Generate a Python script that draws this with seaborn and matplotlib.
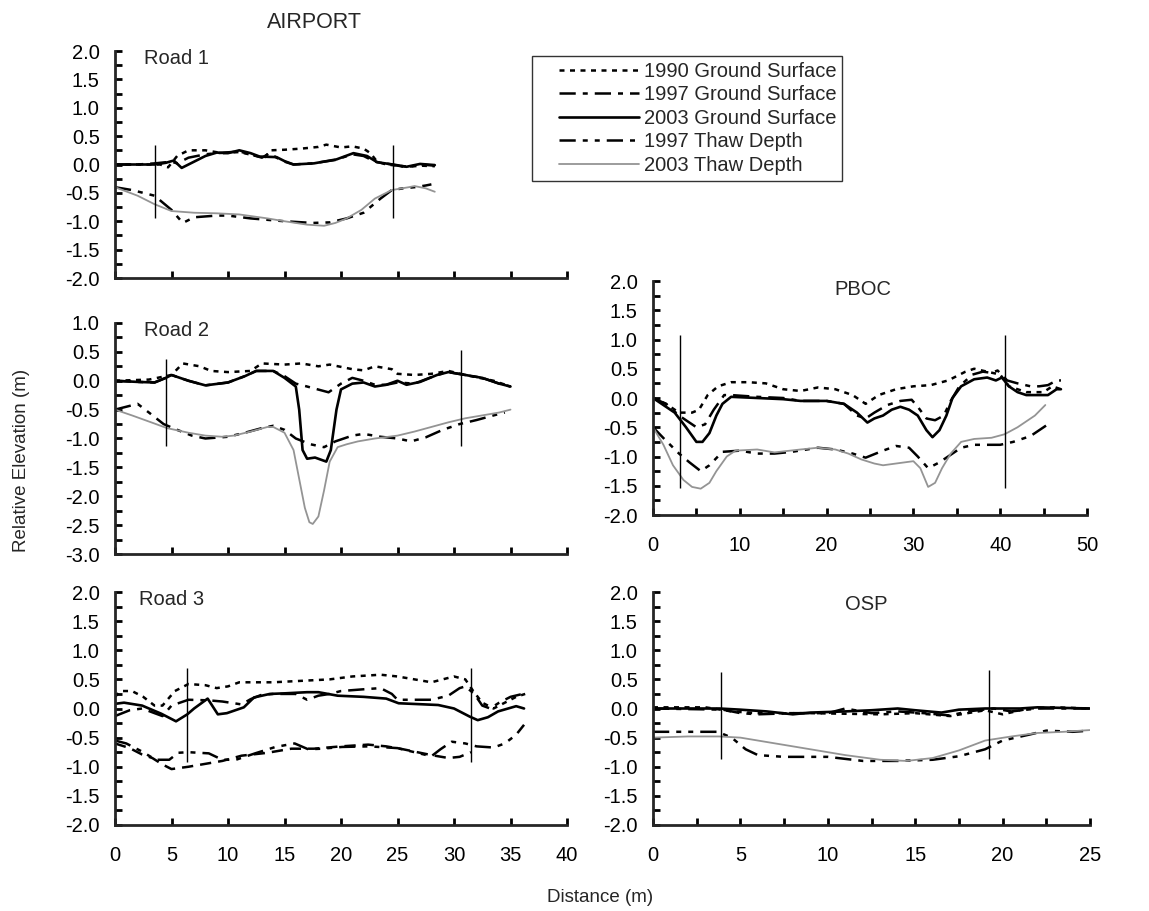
import numpy as np
import pandas as pd
import seaborn as sns
import matplotlib.pyplot as plt
from matplotlib.lines import Line2D
from matplotlib.legend_handler import HandlerLine2D
from matplotlib.ticker import MultipleLocator, FormatStrFormatter, NullFormatter

# Road 1 profiles
road1_gs1990_x = [0, 2, 4, 4.7, 5.5, 6.5, 8, 9.5, 11, 12.5, 13.2, 13.8, 15, 16.5, 18, 18.7, 20, 21, 22, 22.6, 23.2, 24, 25, 26, 27, 28.3]
road1_gs1990_y = [0.0, 0.0, 0.0, -0.05, 0.15, 0.25, 0.25, 0.2, 0.22, 0.15, 0.12, 0.25, 0.26, 0.28, 0.31, 0.35, 0.3, 0.32, 0.28, 0.2, 0.05, 0.0, -0.02, -0.04, -0.02, -0.03]
road1_gs1997_x = [0, 2, 3.5, 5, 5.5, 6.5, 8, 9, 11, 12, 13, 13.7, 14.3, 15, 15.8, 17.5, 19.5, 21, 22, 23, 24.5, 25.8, 27, 28.3]
road1_gs1997_y = [0.0, 0.0, 0.02, 0.05, 0.02, 0.12, 0.18, 0.2, 0.23, 0.18, 0.12, 0.2, 0.12, 0.05, 0.0, 0.02, 0.08, 0.18, 0.15, 0.05, 0.0, -0.05, 0.0, -0.02]
road1_gs2003_x = [0, 2, 3.5, 4.5, 5.2, 5.9, 7, 8, 9, 10, 11, 12, 12.8, 14.3, 15, 15.8, 17.6, 19.6, 21.1, 22.3, 23.2, 24.6, 25.8, 27, 28.3]
road1_gs2003_y = [0.0, 0.0, 0.0, 0.03, 0.07, -0.06, 0.05, 0.15, 0.21, 0.2, 0.25, 0.2, 0.14, 0.13, 0.06, 0.0, 0.02, 0.09, 0.2, 0.15, 0.04, 0.0, -0.04, 0.01, -0.01]
road1_td1997_x = [0, 1.5, 3.5, 5, 6, 7, 9, 10, 12, 15, 17.5, 19, 20.5, 22, 23.5, 24.5, 25.5, 26.5, 27.5, 28]
road1_td1997_y = [-0.4, -0.45, -0.55, -0.8, -1.03, -0.93, -0.9, -0.9, -0.95, -1.0, -1.03, -1.02, -0.95, -0.85, -0.6, -0.45, -0.42, -0.4, -0.37, -0.35]
road1_td2003_x = [0, 2, 3.5, 5, 7, 9, 11, 13.5, 15, 17, 18.5, 19.5, 20.5, 21.8, 23, 24.5, 26, 26.5, 27.5, 28.3]
road1_td2003_y = [-0.4, -0.55, -0.7, -0.82, -0.85, -0.86, -0.88, -0.95, -1.0, -1.06, -1.08, -1.03, -0.95, -0.8, -0.6, -0.45, -0.4, -0.38, -0.42, -0.48]

# Road 2 profiles
road2_gs1990_x = [0, 3, 5, 6, 7.5, 8.5, 10, 12, 13, 15, 16.5, 18, 19, 21, 22, 23, 24.5, 25, 26.5, 28, 29.5, 31, 33.5, 35]
road2_gs1990_y = [0.0, 0.02, 0.1, 0.3, 0.25, 0.17, 0.15, 0.17, 0.3, 0.28, 0.3, 0.25, 0.28, 0.2, 0.18, 0.25, 0.2, 0.12, 0.1, 0.12, 0.17, 0.1, 0.0, -0.1]
road2_gs1997_x = [0, 2, 3.5, 4.5, 5, 6.5, 8, 10, 11.5, 12.5, 14, 15, 16, 17, 18.9, 20, 21, 22, 23, 24, 25, 26.5, 28.5, 29.5, 31, 32.5, 34, 35]
road2_gs1997_y = [0.0, -0.02, -0.03, 0.05, 0.1, 0.0, -0.08, -0.03, 0.08, 0.17, 0.17, 0.08, -0.05, -0.1, -0.2, -0.05, 0.05, 0.0, -0.07, -0.07, -0.03, -0.05, 0.1, 0.15, 0.1, 0.05, -0.05, -0.1]
road2_gs2003_x = [0, 2, 3.5, 4.5, 5, 6.5, 8, 10, 11.5, 12.5, 14, 15, 16, 16.3, 16.6, 17, 17.7, 18.7, 19.1, 19.6, 20, 21, 22, 23, 24, 25, 25.8, 27, 28.5, 29.5, 31, 32.5, 34, 35]
road2_gs2003_y = [0.0, -0.02, -0.03, 0.05, 0.1, 0.0, -0.08, -0.03, 0.08, 0.17, 0.17, 0.05, -0.1, -0.5, -1.2, -1.35, -1.33, -1.4, -1.2, -0.5, -0.15, -0.05, -0.03, -0.1, -0.07, 0.0, -0.07, -0.02, 0.1, 0.15, 0.1, 0.05, -0.05, -0.1]
road2_td1997_x = [0, 2, 3, 4.3, 5.5, 6.8, 8, 10, 11.5, 13, 14, 15, 16, 17.3, 18.5, 19.5, 21, 22, 23.5, 25, 26.2, 27.5, 29, 30.5, 32, 33.5, 34.5]
road2_td1997_y = [-0.5, -0.4, -0.55, -0.75, -0.85, -0.95, -1.0, -0.97, -0.9, -0.82, -0.78, -0.85, -1.0, -1.1, -1.15, -1.05, -0.95, -0.92, -0.97, -1.0, -1.05, -0.98, -0.85, -0.75, -0.68, -0.6, -0.55]
road2_td2003_x = [0, 1.5, 3.2, 4.6, 6.5, 8, 9.5, 10.5, 12, 13.5, 14, 15, 15.8, 16.3, 16.8, 17.2, 17.5, 18, 18.5, 19, 19.7, 20.5, 21.5, 23, 25, 26.5, 28, 29.5, 31, 32.5, 34, 35]
road2_td2003_y = [-0.5, -0.6, -0.72, -0.82, -0.9, -0.95, -0.97, -0.95, -0.88, -0.8, -0.8, -0.9, -1.2, -1.7, -2.2, -2.45, -2.48, -2.35, -1.9, -1.4, -1.15, -1.1, -1.05, -1.0, -0.95, -0.88, -0.8, -0.72, -0.65, -0.6, -0.55, -0.5]

# Road 3 profiles
road3_gs1990_x = [0, 0.5, 1.5, 2.5, 3.5, 4.2, 5.3, 6.5, 8, 9, 10, 11, 14, 17, 19, 21, 23.5, 25, 26.5, 28, 30, 31, 31.7, 32.5, 33.5, 34.5, 35.5, 36.3]
road3_gs1990_y = [0.2, 0.3, 0.3, 0.2, 0.05, 0.05, 0.3, 0.42, 0.4, 0.35, 0.38, 0.45, 0.45, 0.48, 0.5, 0.55, 0.58, 0.55, 0.5, 0.45, 0.55, 0.5, 0.3, 0.1, 0.0, 0.1, 0.2, 0.25]
road3_gs1997_x = [0, 1.3, 2.4, 3.5, 4.2, 5, 6.5, 8.3, 9.5, 11.2, 12, 12.9, 14, 16, 17, 18, 19, 20, 22, 23.5, 24.5, 25, 26.5, 28, 29.5, 30.5, 31, 31.8, 32.5, 33.2, 34, 35, 36.5]
road3_gs1997_y = [-0.13, -0.03, 0.0, -0.08, -0.13, 0.05, 0.15, 0.14, 0.12, 0.07, 0.16, 0.23, 0.25, 0.25, 0.15, 0.22, 0.25, 0.3, 0.33, 0.35, 0.25, 0.15, 0.15, 0.15, 0.22, 0.35, 0.38, 0.25, 0.05, 0.0, 0.1, 0.2, 0.27]
road3_gs2003_x = [0, 0.8, 2.4, 4.1, 5.4, 6.4, 7, 8.2, 9.1, 9.9, 11.4, 12.3, 13.7, 15, 17, 18, 19.7, 22, 24, 25.1, 28.6, 30, 31.4, 32.1, 33, 33.9, 35.5, 36.2]
road3_gs2003_y = [0.08, 0.1, 0.05, -0.09, -0.22, -0.1, 0.0, 0.17, -0.1, -0.08, 0.02, 0.19, 0.25, 0.26, 0.28, 0.28, 0.22, 0.2, 0.17, 0.09, 0.06, 0.0, -0.14, -0.2, -0.15, -0.05, 0.04, 0.0]
road3_td1997_x = [0, 1, 2.4, 3.6, 4.8, 5.6, 6.5, 8.3, 9.5, 10.7, 12.4, 14.2, 15.9, 17.1, 18.3, 20.1, 22.5, 25, 26.5, 28, 28.8, 29.8, 31, 32, 33.5, 34.5, 35.5, 36.2]
road3_td1997_y = [-0.55, -0.6, -0.74, -0.88, -0.88, -0.76, -0.75, -0.77, -0.88, -0.88, -0.77, -0.66, -0.6, -0.7, -0.69, -0.66, -0.65, -0.68, -0.75, -0.82, -0.7, -0.57, -0.6, -0.65, -0.67, -0.6, -0.45, -0.28]
road3_td2003_x = [0, 1.3, 2.4, 3.3, 4.2, 5.0, 6.5, 8.3, 9.5, 11.2, 13.5, 15.6, 17.6, 20, 22.4, 24, 25.5, 28, 29.5, 30.5, 31.5]
road3_td2003_y = [-0.6, -0.68, -0.79, -0.85, -0.96, -1.04, -1.0, -0.94, -0.9, -0.81, -0.76, -0.69, -0.69, -0.65, -0.62, -0.65, -0.7, -0.8, -0.85, -0.83, -0.75]

# PBOC profiles
pboc_gs1990_x = [0, 1.5, 3, 4.5, 5.3, 6.3, 7.5, 9, 11, 13, 15, 17, 19, 21, 23, 24.5, 26, 28, 30, 32, 34, 36, 37, 38.5, 40, 41, 43, 45, 46, 47]
pboc_gs1990_y = [0.0, -0.1, -0.25, -0.25, -0.2, 0.05, 0.2, 0.27, 0.27, 0.25, 0.15, 0.12, 0.18, 0.15, 0.05, -0.1, 0.05, 0.15, 0.2, 0.22, 0.3, 0.45, 0.5, 0.45, 0.4, 0.2, 0.1, 0.1, 0.2, 0.15]
pboc_gs1997_x = [0, 1.5, 3, 4.5, 5, 6, 7, 8.2, 9, 12, 15, 17, 20, 22, 23.5, 24.5, 25.5, 27, 28.5, 29.8, 30.5, 31.5, 32.5, 33.5, 34.3, 35.3, 36.8, 38, 39, 39.7, 40.8, 42, 43.5, 44.5, 45.5, 46.5, 47]
pboc_gs1997_y = [0.0, -0.1, -0.3, -0.45, -0.5, -0.45, -0.2, 0.05, 0.05, 0.02, 0.0, -0.05, -0.05, -0.1, -0.3, -0.35, -0.25, -0.12, -0.05, -0.03, -0.15, -0.35, -0.38, -0.3, -0.05, 0.2, 0.4, 0.45, 0.43, 0.47, 0.3, 0.25, 0.2, 0.2, 0.22, 0.3, 0.3]
pboc_gs2003_x = [0, 1, 2.5, 3.8, 5, 5.7, 6.5, 7.3, 8, 9, 12, 15, 17, 20, 22, 23.5, 24.7, 25.5, 26.5, 27.5, 28.5, 29.5, 30.5, 31.5, 32.2, 33, 33.8, 34.5, 35.5, 37, 38.5, 39.5, 40.2, 41, 42, 43, 44.5, 45.5, 46.5, 47]
pboc_gs2003_y = [0.0, -0.1, -0.25, -0.5, -0.75, -0.75, -0.6, -0.3, -0.1, 0.02, 0.0, -0.02, -0.05, -0.05, -0.1, -0.25, -0.42, -0.35, -0.3, -0.2, -0.15, -0.2, -0.3, -0.55, -0.67, -0.55, -0.3, 0.0, 0.2, 0.32, 0.35, 0.3, 0.35, 0.2, 0.1, 0.05, 0.05, 0.05, 0.15, 0.15]
pboc_td1997_x = [0, 1.3, 3, 4.2, 5.5, 6.5, 8, 10, 12, 14, 16, 19, 21, 23, 24.5, 26.5, 28, 29.5, 30.5, 31.7, 33, 34.5, 35.5, 37, 40, 41.5, 43.5, 45, 45.8]
pboc_td1997_y = [-0.5, -0.7, -0.95, -1.1, -1.25, -1.15, -0.92, -0.9, -0.95, -0.95, -0.92, -0.85, -0.88, -0.95, -1.02, -0.9, -0.82, -0.85, -1.0, -1.2, -1.1, -0.95, -0.85, -0.8, -0.8, -0.75, -0.65, -0.5, -0.42]
pboc_td2003_x = [0, 1.2, 2.3, 3.5, 4.5, 5.5, 6.5, 7.3, 8.5, 9.5, 12, 14, 17, 19, 21, 22.5, 24, 25.5, 26.5, 28, 30, 30.8, 31.7, 32.5, 33.3, 34.3, 35.5, 37, 39, 40.5, 42, 44, 45.2]
pboc_td2003_y = [-0.5, -0.8, -1.15, -1.4, -1.52, -1.55, -1.45, -1.25, -1.0, -0.9, -0.88, -0.93, -0.88, -0.85, -0.88, -0.95, -1.05, -1.12, -1.15, -1.12, -1.08, -1.2, -1.52, -1.45, -1.2, -0.95, -0.75, -0.7, -0.68, -0.62, -0.5, -0.3, -0.12]

# OSP profiles
osp_gs1990_x = [0, 3, 4.5, 6, 9, 13, 15, 17, 18, 19, 20, 21.5, 23, 25]
osp_gs1990_y = [0.02, 0.02, -0.05, -0.08, -0.08, -0.1, -0.08, -0.13, -0.08, -0.03, -0.1, 0.0, 0.02, 0.0]
osp_gs1997_x = [0, 4, 5, 6, 8, 10, 11, 12.5, 14, 15.5, 17, 18, 19.5, 20.5, 22, 25]
osp_gs1997_y = [0.0, -0.02, -0.08, -0.1, -0.08, -0.08, 0.0, -0.08, -0.05, -0.08, -0.12, -0.05, 0.0, -0.05, 0.0, 0.0]
osp_gs2003_x = [0, 3.8, 5, 6.5, 8, 9, 11, 12.5, 14, 15, 16.5, 17.5, 19, 21, 22, 25]
osp_gs2003_y = [0.0, 0.0, -0.02, -0.05, -0.1, -0.07, -0.05, -0.03, 0.0, -0.03, -0.07, -0.02, 0.0, 0.0, 0.02, 0.0]
osp_td1997_x = [0, 2, 3.7, 4.5, 5.3, 6, 7.5, 10, 12, 14, 16, 17.5, 19, 20, 21.5, 22.5, 24, 25]
osp_td1997_y = [-0.4, -0.4, -0.4, -0.5, -0.7, -0.8, -0.83, -0.83, -0.9, -0.9, -0.88, -0.82, -0.7, -0.55, -0.45, -0.38, -0.4, -0.38]
osp_td2003_x = [0, 2, 3.8, 5, 7, 9, 11, 13, 14.5, 16, 17.5, 19, 20.5, 22, 23.5, 25]
osp_td2003_y = [-0.5, -0.48, -0.48, -0.5, -0.6, -0.7, -0.8, -0.88, -0.9, -0.85, -0.72, -0.55, -0.48, -0.42, -0.4, -0.37]

# road edge markers (x position, bottom, top)
road1_edges = [(3.5, -0.95, 0.35), (24.6, -0.95, 0.35)]
road2_edges = [(4.55, -1.13, 0.38), (30.6, -1.13, 0.54)]
road3_edges = [(6.4, -0.92, 0.7), (31.5, -0.92, 0.7)]
pboc_edges = [(3.1, -1.53, 1.07), (40.5, -1.53, 1.07)]
osp_edges = [(3.9, -0.87, 0.63), (19.2, -0.87, 0.66)]

series_names = ['1990 Ground Surface', '1997 Ground Surface', '2003 Ground Surface',
                '1997 Thaw Depth', '2003 Thaw Depth']

sns.set_theme(style='ticks')
plt.rcParams['font.family'] = ['Liberation Sans', 'DejaVu Sans']
plt.rcParams['axes.unicode_minus'] = False

styles = {
    '1990 Ground Surface': dict(color='black', lw=1.8, linestyle=(0, (2.0, 2.2))),
    '1997 Ground Surface': dict(color='black', lw=1.8, linestyle=(0, (6.5, 2.8, 2.0, 2.8))),
    '2003 Ground Surface': dict(color='black', lw=1.9, linestyle='-'),
    '1997 Thaw Depth': dict(color='black', lw=1.8, linestyle=(0, (6.5, 2.8, 2.0, 2.8, 2.0, 2.8))),
    '2003 Thaw Depth': dict(color='#949494', lw=1.3, linestyle='-'),
}

FS = 14.5
W, H = 1149, 911
fig = plt.figure(figsize=(W / 100, H / 100), dpi=100)


def box(l, t, r, b):
    return [l / W, 1 - b / H, (r - l) / W, (b - t) / H]


ax1 = fig.add_axes(box(115, 51, 567, 278))
ax2 = fig.add_axes(box(115, 323, 567, 554))
ax3 = fig.add_axes(box(115, 592, 567, 825))
ax4 = fig.add_axes(box(653, 281, 1087, 515))
ax5 = fig.add_axes(box(653, 592, 1090, 825))

panels = [
    (ax1, [road1_gs1990_x, road1_gs1997_x, road1_gs2003_x, road1_td1997_x, road1_td2003_x],
     [road1_gs1990_y, road1_gs1997_y, road1_gs2003_y, road1_td1997_y, road1_td2003_y], road1_edges),
    (ax2, [road2_gs1990_x, road2_gs1997_x, road2_gs2003_x, road2_td1997_x, road2_td2003_x],
     [road2_gs1990_y, road2_gs1997_y, road2_gs2003_y, road2_td1997_y, road2_td2003_y], road2_edges),
    (ax3, [road3_gs1990_x, road3_gs1997_x, road3_gs2003_x, road3_td1997_x, road3_td2003_x],
     [road3_gs1990_y, road3_gs1997_y, road3_gs2003_y, road3_td1997_y, road3_td2003_y], road3_edges),
    (ax4, [pboc_gs1990_x, pboc_gs1997_x, pboc_gs2003_x, pboc_td1997_x, pboc_td2003_x],
     [pboc_gs1990_y, pboc_gs1997_y, pboc_gs2003_y, pboc_td1997_y, pboc_td2003_y], pboc_edges),
    (ax5, [osp_gs1990_x, osp_gs1997_x, osp_gs2003_x, osp_td1997_x, osp_td2003_x],
     [osp_gs1990_y, osp_gs1997_y, osp_gs2003_y, osp_td1997_y, osp_td2003_y], osp_edges),
]

for ax, xs, ys, edges in panels:
    for name, x, y in zip(series_names, xs, ys):
        st = dict(styles[name])
        # Road 3 thaw 2003 is drawn dashed black in the original
        if ax is ax3 and name == '2003 Thaw Depth':
            st = dict(color='black', lw=1.8, linestyle=(0, (4.5, 2.8)))
        sns.lineplot(x=x, y=y, ax=ax, estimator=None, sort=False, label=name, **st)
    for ex, eb, et in edges:
        ax.vlines(ex, eb, et, color='black', lw=1.0)
    ax.get_legend().remove()

# axes styling
for ax in [ax1, ax2, ax3, ax4, ax5]:
    sns.despine(ax=ax)
    ax.spines['left'].set_linewidth(2)
    ax.spines['bottom'].set_linewidth(2)
    ax.set_xlabel('')
    ax.set_ylabel('')
    ax.yaxis.set_major_locator(MultipleLocator(0.5))
    ax.yaxis.set_minor_locator(MultipleLocator(0.25))
    ax.yaxis.set_major_formatter(FormatStrFormatter('%.1f'))
    ax.tick_params(axis='both', which='both', direction='in', width=2, length=5,
                   labelsize=FS, colors='black')
    ax.tick_params(axis='y', which='both', pad=11)
    ax.tick_params(axis='x', which='both', pad=15)

for ax in [ax1, ax2, ax3]:
    ax.set_xlim(0, 40)
    ax.xaxis.set_major_locator(MultipleLocator(5))
ax1.set_ylim(-2, 2)
ax2.set_ylim(-3, 1)
ax3.set_ylim(-2, 2)
ax1.xaxis.set_major_formatter(NullFormatter())
ax2.xaxis.set_major_formatter(NullFormatter())

ax4.set_xlim(0, 50)
ax4.set_ylim(-2, 2)
ax4.xaxis.set_major_locator(MultipleLocator(10))
ax4.xaxis.set_minor_locator(MultipleLocator(5))

ax5.set_xlim(0, 25)
ax5.set_ylim(-2, 2)
ax5.xaxis.set_major_locator(MultipleLocator(5))
ax5.xaxis.set_minor_locator(MultipleLocator(2.5))

# panel labels
ax1.text(0.064, 1.01, 'Road 1', transform=ax1.transAxes, fontsize=FS, va='top', ha='left')
ax2.text(0.064, 1.01, 'Road 2', transform=ax2.transAxes, fontsize=FS, va='top', ha='left')
ax3.text(0.054, 1.01, 'Road 3', transform=ax3.transAxes, fontsize=FS, va='top', ha='left')
ax4.text(24.2, 1.86, 'PBOC', fontsize=FS, ha='center', va='center')
ax5.text(12.2, 1.79, 'OSP', fontsize=FS, ha='center', va='center')
fig.text(314 / W, 1 - 22 / H, 'AIRPORT', fontsize=15.5, ha='center', va='center')

fig.text(22 / W, 1 - 460 / H, 'Relative Elevation (m)', rotation=90, fontsize=13.5,
         ha='center', va='center')
fig.text(600 / W, 1 - 898 / H, 'Distance (m)', fontsize=13.5, ha='center', va='center')

handles, labels = ax1.get_legend_handles_labels()
leg = fig.legend(handles[:5], labels[:5], loc='upper left',
                 bbox_to_anchor=(532 / W, 1 - 56 / H), bbox_transform=fig.transFigure,
                 fontsize=FS, frameon=True, fancybox=False, borderaxespad=0,
                 handlelength=5.0, handletextpad=0.25, labelspacing=0.22, borderpad=0.3,
                 handler_map={Line2D: HandlerLine2D(xpad=1.05)})
leg.get_frame().set_edgecolor('black')
leg.get_frame().set_linewidth(1.0)

plt.savefig('out.png', dpi=100)
